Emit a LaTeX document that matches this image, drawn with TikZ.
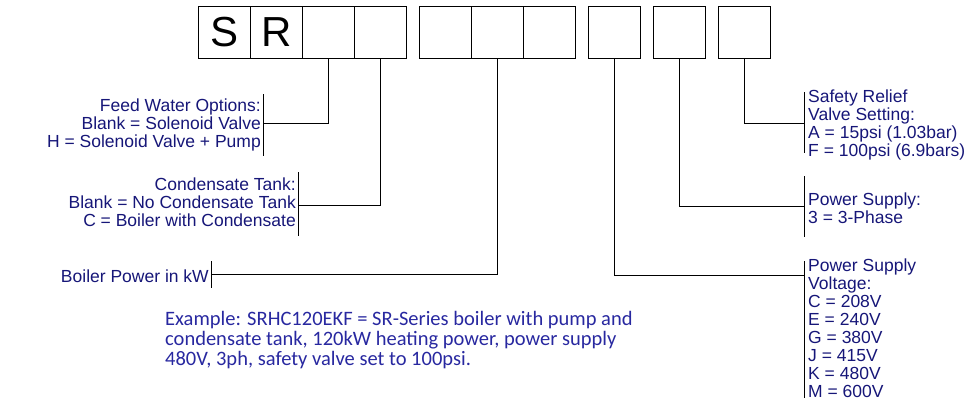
\documentclass[tikz,border=0pt]{standalone}
\usepackage{fontspec}
\setmainfont{Liberation Sans}
\newfontfamily\exfont{Carlito}
\begin{document}
\begin{tikzpicture}[x=1pt,y=-1pt,
  box/.style={draw,line width=0.9pt,minimum width=52pt,minimum height=52pt,inner sep=0,anchor=north west,font=\fontsize{42}{42}\selectfont},
  lbl/.style={text=lblue,font=\fontsize{17.5}{18}\selectfont,inner sep=0},
  ln/.style={line width=0.9pt}]
\definecolor{lblue}{RGB}{22,22,120}
\definecolor{exblue}{RGB}{40,40,160}
\useasboundingbox (0,0) rectangle (974,413);
\node[box] (b1) at (198,6) {S};
\node[box] (b2) at (250,6) {R};
\node[box] (b3) at (302,6) {};
\node[box] (b4) at (354,6) {};
\node[box] (b5) at (419,6) {};
\node[box] (b6) at (471,6) {};
\node[box] (b7) at (523,6) {};
\node[box] (b8) at (588,6) {};
\node[box] (b9) at (653,6) {};
\node[box] (b10) at (718,6) {};
% left labels
\node[lbl,align=right,anchor=east] (fw) at (261,125) {Feed Water Options:\\Blank = Solenoid Valve\\H = Solenoid Valve + Pump};
\draw[ln] (263,94) -- (263,156);
\coordinate (fwj) at (263,123);
\draw[ln] (fwj) -| (b3.south);
\node[lbl,align=right,anchor=east] (ct) at (296,202) {Condensate Tank:\\Blank = No Condensate Tank\\C = Boiler with Condensate};
\draw[ln] (298,172) -- (298,236);
\coordinate (ctj) at (298,205);
\draw[ln] (ctj) -| (b4.south);
\node[lbl,anchor=east] (bp) at (209,276) {Boiler Power in kW};
\draw[ln] (211,261) -- (211,288);
\coordinate (bpj) at (211,274);
\draw[ln] (bpj) -| (b6.south);
% right labels
\node[lbl,align=left,anchor=north west] (sr) at (808,90) {Safety Relief\\Valve Setting:\\A = 15psi (1.03bar)\\F = 100psi (6.9bars)};
\draw[ln] (804,92) -- (804,153);
\coordinate (srj) at (804,123);
\draw[ln] (srj) -| (b10.south);
\node[lbl,align=left,anchor=north west] (ps) at (808,193) {Power Supply:\\3 = 3-Phase};
\draw[ln] (804,176) -- (804,237);
\coordinate (psj) at (804,206);
\draw[ln] (psj) -| (b9.south);
\node[lbl,align=left,anchor=north west] (pv) at (808,259) {Power Supply\\Voltage:\\C = 208V\\E = 240V\\G = 380V\\J = 415V\\K = 480V\\M = 600V};
\draw[ln] (804,261) -- (804,398);
\coordinate (pvj) at (804,275);
\draw[ln] (pvj) -| (b8.south);
% example
\node[text=exblue,font=\exfont\fontsize{20.5}{20}\selectfont,align=left,anchor=north west,inner sep=0] (ex) at (165,311) {Example: SRHC120EKF = SR-Series boiler with pump and\\condensate tank, 120kW heating power, power supply\\480V, 3ph, safety valve set to 100psi.};
\end{tikzpicture}
\end{document}
